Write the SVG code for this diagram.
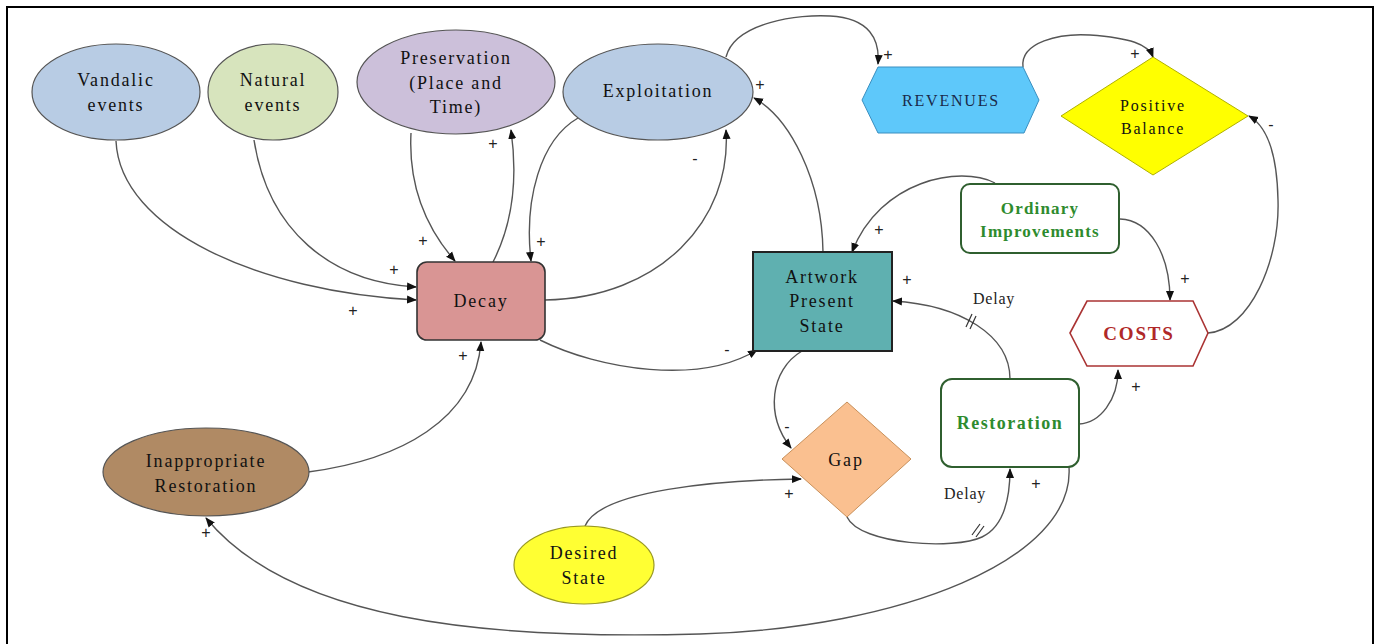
<svg xmlns="http://www.w3.org/2000/svg" width="1380" height="644" viewBox="0 0 1380 644">
<defs>
<marker id="ah" markerWidth="10" markerHeight="10" refX="9" refY="5" orient="auto" markerUnits="userSpaceOnUse">
<path d="M0,1 L10,5 L0,9 Z" fill="#111"/>
</marker>
<style>
.t{font-family:"Liberation Serif","Times New Roman",serif;font-size:18px;letter-spacing:1.8px;fill:#111;text-anchor:middle}
.g{fill:#2e8b2e;font-weight:bold;letter-spacing:1.2px}
.c{fill:none;stroke:#555;stroke-width:1.4;marker-end:url(#ah)}
.cn{fill:none;stroke:#555;stroke-width:1.4}
.p{font-family:"Liberation Sans",Arial,sans-serif;font-size:16px;fill:#222;text-anchor:middle}
.d{font-family:"Liberation Serif","Times New Roman",serif;font-size:16px;letter-spacing:0.8px;fill:#222;text-anchor:middle}
.tick{stroke:#333;stroke-width:1.2}
</style>
</defs>
<rect x="0" y="0" width="1380" height="644" fill="#fff"/>
<rect x="7" y="7" width="1366" height="660" fill="none" stroke="#000" stroke-width="2"/>

<g id="connectors">
<path class="c" d="M116,141 C120,230 260,292 416,300"/>
<path class="c" d="M254,140 C268,230 330,282 416,287"/>
<path class="c" d="M411,133 C408,190 428,230 455,261"/>
<path class="c" d="M493,262 C512,225 518,180 511,130"/>
<path class="c" d="M578,118 C540,140 524,200 531,261"/>
<path class="c" d="M545,300 C660,298 732,220 726,130"/>
<path class="c" d="M823,252 C822,180 790,118 754,98"/>
<path class="c" d="M726,57 C735,22 800,14 830,16 C870,18 880,40 878,64"/>
<path class="c" d="M1023,67 C1020,42 1060,33 1090,35 C1130,38 1148,44 1153,57"/>
<path class="c" d="M1208,333 C1250,330 1280,260 1278,200 C1277,150 1265,125 1249,116"/>
<path class="c" d="M995,183 C960,165 880,180 852,252"/>
<path class="c" d="M1120,219 C1150,220 1170,255 1170,300"/>
<path class="c" d="M1010,379 C1010,335 960,305 893,301"/>
<path class="c" d="M1079,424 C1100,423 1118,400 1118,370"/>
<path class="c" d="M802,351 C770,370 765,415 791,448"/>
<path class="c" d="M585,526 C600,490 720,480 801,479"/>
<path class="c" d="M847,517 C860,545 955,550 982,537 C1005,526 1010,495 1010,469"/>
<path class="c" d="M1069,467 C1075,560 900,628 700,634 C480,640 290,620 206,518"/>
<path class="c" d="M308,472 C400,460 475,420 481,342"/>
<path class="c" d="M540,340 C600,370 700,385 757,350"/>
<line class="tick" x1="966" y1="327" x2="972" y2="314"/>
<line class="tick" x1="970" y1="329" x2="976" y2="316"/>
<line class="tick" x1="972" y1="535" x2="980" y2="524"/>
<line class="tick" x1="976" y1="537" x2="984" y2="526"/>
</g>

<g id="vandalic"><ellipse cx="116" cy="92" rx="84" ry="48" fill="#b8cce4" stroke="#555" stroke-width="1.2"/><text class="t" x="116" y="86">Vandalic</text><text class="t" x="116" y="111">events</text></g>
<g id="natural"><ellipse cx="273" cy="92" rx="65" ry="48" fill="#d7e4bd" stroke="#555" stroke-width="1.2"/><text class="t" x="273" y="86">Natural</text><text class="t" x="273" y="111">events</text></g>
<g id="preservation"><ellipse cx="456" cy="82" rx="99" ry="52" fill="#ccc0da" stroke="#555" stroke-width="1.2"/><text class="t" x="456" y="64">Preservation</text><text class="t" x="456" y="89">(Place and</text><text class="t" x="456" y="113">Time)</text></g>
<g id="exploitation"><ellipse cx="658" cy="92" rx="95" ry="48" fill="#b8cce4" stroke="#555" stroke-width="1.2"/><text class="t" x="658" y="97">Exploitation</text></g>
<g id="revenues"><polygon points="862,100 878,67 1023,67 1039,100 1024,133 878,133" fill="#5ec8fa" stroke="#3a8fc0" stroke-width="1"/><text class="t" x="951" y="106" style="font-size:16px;fill:#1a2a4a">REVENUES</text></g>
<g id="balance"><polygon points="1153,57 1248,116 1153,175 1061,116" fill="#ffff00" stroke="#b0b000" stroke-width="1"/><text class="t" x="1153" y="111" style="font-size:16px">Positive</text><text class="t" x="1153" y="134" style="font-size:16px">Balance</text></g>
<g id="ordinary"><rect x="961" y="184" width="158" height="69" rx="9" fill="#fff" stroke="#2f5f2f" stroke-width="2"/><text class="t g" x="1040" y="214" style="font-size:17px">Ordinary</text><text class="t g" x="1040" y="237" style="font-size:17px">Improvements</text></g>
<g id="costs"><polygon points="1070,333 1087,301 1193,301 1208,333 1193,366 1087,366" fill="#fff" stroke="#a33" stroke-width="1.6"/><text class="t" x="1139" y="340" style="font-weight:bold;font-size:19px;fill:#b02828">COSTS</text></g>
<g id="artwork"><rect x="753" y="252" width="139" height="99" fill="#5fb0b0" stroke="#222" stroke-width="2"/><text class="t" x="822" y="283">Artwork</text><text class="t" x="822" y="307">Present</text><text class="t" x="822" y="332">State</text></g>
<g id="decay"><rect x="417" y="262" width="128" height="78" rx="10" fill="#d99594" stroke="#333" stroke-width="1.6"/><text class="t" x="481" y="307">Decay</text></g>
<g id="restoration"><rect x="941" y="379" width="138" height="88" rx="11" fill="#fff" stroke="#2f5f2f" stroke-width="2"/><text class="t g" x="1010" y="429" style="letter-spacing:1.5px">Restoration</text></g>
<g id="gap"><polygon points="847,402 911,459 847,517 782,459" fill="#fac090" stroke="#c8905a" stroke-width="1"/><text class="t" x="846" y="466">Gap</text></g>
<g id="desired"><ellipse cx="584" cy="565" rx="70" ry="39" fill="#ffff33" stroke="#999922" stroke-width="1.2"/><text class="t" x="584" y="559">Desired</text><text class="t" x="584" y="584">State</text></g>
<g id="inappropriate"><ellipse cx="206" cy="472" rx="103" ry="44" fill="#b08a64" stroke="#555" stroke-width="1.2"/><text class="t" x="206" y="467">Inappropriate</text><text class="t" x="206" y="492">Restoration</text></g>

<g id="labels">
<text class="p" x="353" y="316">+</text>
<text class="p" x="394" y="275">+</text>
<text class="p" x="423" y="246">+</text>
<text class="p" x="493" y="149">+</text>
<text class="p" x="541" y="247">+</text>
<text class="p" x="695" y="164">-</text>
<text class="p" x="760" y="90">+</text>
<text class="p" x="888" y="60">+</text>
<text class="p" x="1135" y="59">+</text>
<text class="p" x="1271" y="130">-</text>
<text class="p" x="879" y="235">+</text>
<text class="p" x="1185" y="284">+</text>
<text class="p" x="907" y="285">+</text>
<text class="p" x="1136" y="392">+</text>
<text class="p" x="787" y="432">-</text>
<text class="p" x="789" y="499">+</text>
<text class="p" x="1036" y="489">+</text>
<text class="p" x="206" y="538">+</text>
<text class="p" x="463" y="361">+</text>
<text class="p" x="727" y="355">-</text>
<text class="d" x="994" y="304">Delay</text>
<text class="d" x="965" y="499">Delay</text>
</g>
</svg>
